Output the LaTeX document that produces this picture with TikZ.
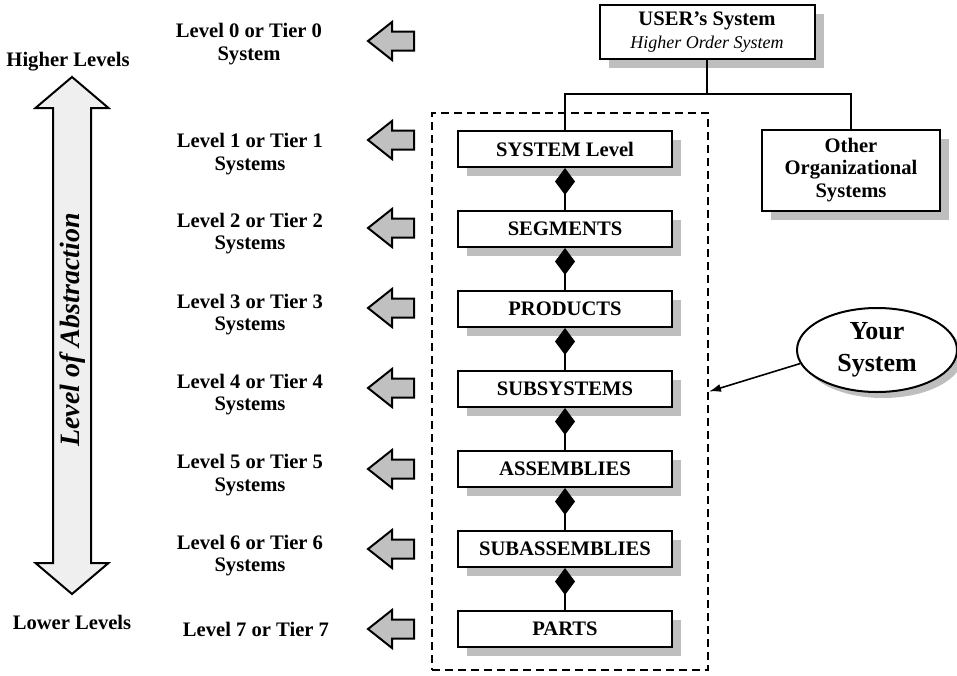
\documentclass[tikz,border=0pt]{standalone}
\usepackage{fontspec}
\setmainfont{Liberation Serif}
\usetikzlibrary{positioning,shapes.geometric,shadows,arrows.meta}
\definecolor{shadowgray}{RGB}{190,190,190}
\definecolor{arrowgray}{RGB}{192,192,192}
\definecolor{abstractgray}{RGB}{239,239,239}
\tikzset{
	levelbox/.style={draw, line width=1pt, fill=white, minimum width=107pt, minimum height=18pt, inner sep=1pt, align=center, font=\fontsize{10.3}{11.2}\selectfont\bfseries, drop shadow={shadow xshift=4.5pt, shadow yshift=-4.5pt, fill=shadowgray, opacity=1}},
	tierlabel/.style={align=center, font=\fontsize{10.3}{11.2}\selectfont\bfseries},
	partof/.style={{Diamond[width=10pt, length=13.5pt]}-, line width=1pt},
	tierarrow/.pic={\draw[line width=1pt, fill=arrowgray, line join=miter] (0,0) -- (24,-19) -- (24,-9.5) -- (46,-9.5) -- (46,9.5) -- (24,9.5) -- (24,19) -- cycle;}
}
\begin{document}
\begin{tikzpicture}[x=0.5pt, y=-0.5pt, line join=miter]
		\useasboundingbox (0,0) rectangle (957,675);
		
		% Abstraction scale
		\node[tierlabel] (higher) at (68,62) {Higher Levels};
		\node[tierlabel] (lower) at (72,622) {Lower Levels};
		\draw[line width=1pt, fill=abstractgray] (72,77) -- (108.5,108) -- (91,108) -- (91,563) -- (108.5,563) -- (72,594) -- (35.5,563) -- (53,563) -- (53,108) -- (35.5,108) -- cycle;
		\node[rotate=90, font=\fontsize{14}{16}\selectfont\bfseries\itshape] (abstraction) at (73,330) {Level of Abstraction};
		
		% Tier labels
		\node[tierlabel] (tier0) at (249,44) {Level 0 or Tier 0\\System};
		\node[tierlabel] (tier1) at (250,154) {Level 1 or Tier 1\\Systems};
		\node[tierlabel] (tier2) at (250,233.5) {Level 2 or Tier 2\\Systems};
		\node[tierlabel] (tier3) at (250,314.5) {Level 3 or Tier 3\\Systems};
		\node[tierlabel] (tier4) at (250,394.5) {Level 4 or Tier 4\\Systems};
		\node[tierlabel] (tier5) at (250,475) {Level 5 or Tier 5\\Systems};
		\node[tierlabel] (tier6) at (250,555.5) {Level 6 or Tier 6\\Systems};
		\node[tierlabel] (tier7) at (256,629) {Level 7 or Tier 7};
		
		\pic at (368,41) {tierarrow};
		\pic at (368,140) {tierarrow};
		\pic at (368,228) {tierarrow};
		\pic at (368,308) {tierarrow};
		\pic at (368,388) {tierarrow};
		\pic at (368,469) {tierarrow};
		\pic at (368,549) {tierarrow};
		\pic at (368,629) {tierarrow};
		
		% Your system boundary
		\node[draw, dashed, dash pattern=on 4pt off 2.5pt, line width=1pt, minimum width=138pt, minimum height=278.5pt, inner sep=0pt] (yourbound) at (570,391.5) {};
		
		% Hierarchy
		\node[levelbox, minimum width=107.5pt, minimum height=27pt] (user) at (707,32) {USER's System\\{\fontsize{9}{10}\selectfont\mdseries\itshape Higher Order System}};
		\node[levelbox, minimum width=89pt, minimum height=40.5pt] (other) at (851,170) {Other\\Organizational\\Systems};
		\node[levelbox] (system) at (565,149) {SYSTEM Level};
		\node[levelbox] (segments) at (565,229) {SEGMENTS};
		\node[levelbox] (products) at (565,309) {PRODUCTS};
		\node[levelbox] (subsystems) at (565,389) {SUBSYSTEMS};
		\node[levelbox] (assemblies) at (565,469) {ASSEMBLIES};
		\node[levelbox] (subassemblies) at (565,549) {SUBASSEMBLIES};
		\node[levelbox] (parts) at (565,629) {PARTS};
		
		\coordinate (fork) at (707,94);
		\draw[line width=1pt] (user.south) -- (fork);
		\draw[line width=1pt] (system.north) |- (fork) -| (other.north);
		
		\draw[partof] (system) -- (segments);
		\draw[partof] (segments) -- (products);
		\draw[partof] (products) -- (subsystems);
		\draw[partof] (subsystems) -- (assemblies);
		\draw[partof] (assemblies) -- (subassemblies);
		\draw[partof] (subassemblies) -- (parts);
		
		% Your system callout
		\node[ellipse, draw, line width=1pt, fill=white, minimum width=80pt, minimum height=42pt, inner sep=0pt, align=center, font=\fontsize{13}{16}\selectfont\bfseries, drop shadow={shadow xshift=3pt, shadow yshift=-3pt, fill=shadowgray, opacity=1}] (yours) at (877,350) {Your\\System};
		\draw[-{Latex[length=6pt, width=4pt]}, line width=0.8pt] (yours.190) -- (yourbound.east);
		
	\end{tikzpicture}
\end{document}
